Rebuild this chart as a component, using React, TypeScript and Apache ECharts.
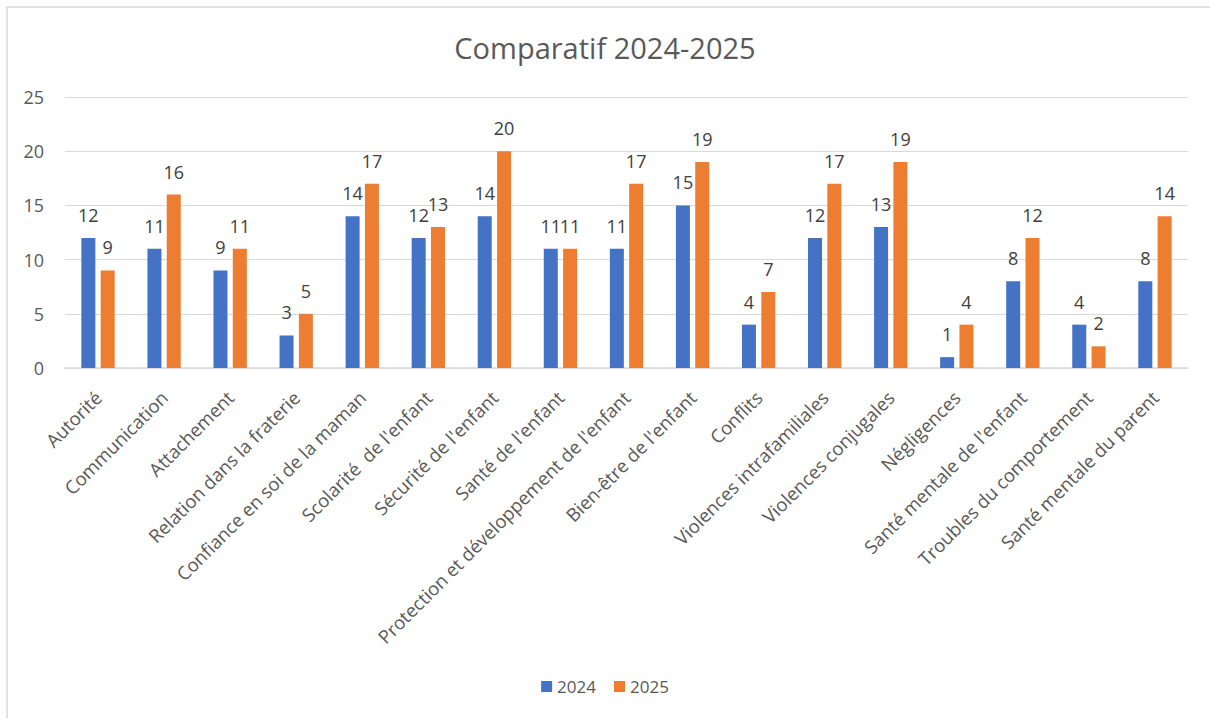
import React, { useEffect, useRef } from "react";
import * as echarts from "echarts";

const categories = [
  "Autorité",
  "Communication",
  "Attachement",
  "Relation dans la fraterie",
  "Confiance en soi de la maman",
  "Scolarité  de l'enfant",
  "Sécurité de l'enfant",
  "Santé de l'enfant",
  "Protection et développement de l'enfant",
  "Bien-être de l'enfant",
  "Conflits",
  "Violences intrafamiliales",
  "Violences conjugales",
  "Négligences",
  "Santé mentale de l'enfant",
  "Troubles du comportement",
  "Santé mentale du parent",
];
const values2024 = [12, 11, 9, 3, 14, 12, 14, 11, 11, 15, 4, 12, 13, 1, 8, 4, 8];
const values2025 = [9, 16, 11, 5, 17, 13, 20, 11, 17, 19, 7, 17, 19, 4, 12, 2, 14];
const yTicks = { min: 0, max: 25, interval: 5 };

const FONT = "'Open Sans', 'Noto Sans', sans-serif";
const TEXT = "#595959";

export default function App() {
  const ref = useRef<HTMLDivElement>(null);
  useEffect(() => {
    document.body.style.margin = "0";
    const chart = echarts.init(ref.current!, null, { renderer: "svg" });
    const label = {
      show: true,
      position: "top" as const,
      color: "#404040",
      fontSize: 18,
      fontFamily: FONT,
      distance: 14,
    };
    chart.setOption({
      animation: false,
      backgroundColor: "#fff",
      title: {
        text: "Comparatif 2024-2025",
        left: "center",
        top: 28,
        textStyle: { color: TEXT, fontSize: 29, fontWeight: "normal", fontFamily: FONT },
      },
      legend: {
        bottom: 18,
        left: "center",
        itemWidth: 11,
        itemHeight: 11,
        itemGap: 18,
        icon: "rect",
        textStyle: { color: TEXT, fontSize: 17, fontFamily: FONT },
        data: ["2024", "2025"],
      },
      grid: { left: 65, right: 22, top: 97, bottom: 350, containLabel: false },
      xAxis: {
        type: "category",
        data: categories,
        axisLine: { lineStyle: { color: "#d9d9d9", width: 1.5 } },
        axisTick: { show: false },
        axisLabel: {
          rotate: 45,
          interval: 0,
          color: TEXT,
          fontSize: 18.5,
          fontFamily: FONT,
          margin: 26,
        },
      },
      yAxis: {
        type: "value",
        min: yTicks.min,
        max: yTicks.max,
        interval: yTicks.interval,
        axisLine: { show: false },
        axisTick: { show: false },
        splitLine: { lineStyle: { color: "#d9d9d9", width: 1 } },
        axisLabel: { color: TEXT, fontSize: 18, fontFamily: FONT, margin: 21 },
      },
      series: [
        {
          name: "2024",
          type: "bar",
          data: values2024,
          barWidth: 14,
          barGap: "38%",
          itemStyle: { color: "#4472c4" },
          label,
        },
        {
          name: "2025",
          type: "bar",
          data: values2025,
          barWidth: 14,
          itemStyle: { color: "#ed7d31" },
          label,
        },
      ],
      graphic: [
        {
          type: "rect",
          shape: { x: 7, y: 7, width: 1220, height: 730 },
          style: { fill: "none", stroke: "#d9d9d9", lineWidth: 1.5 },
          silent: true,
        },
      ],
    });
    return () => chart.dispose();
  }, []);
  return <div ref={ref} style={{ width: 1210, height: 718 }} />;
}
